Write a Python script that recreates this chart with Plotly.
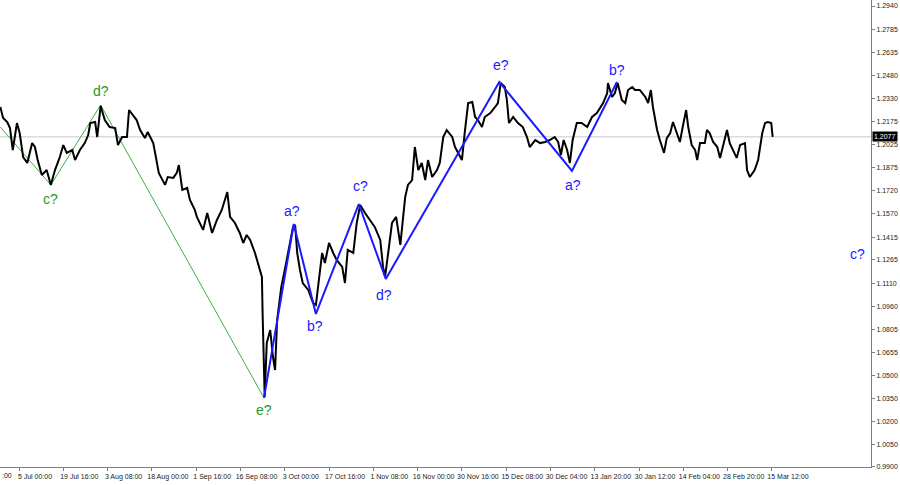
import plotly.graph_objects as go

# ---------------- data (bar index on H4 chart, price) ----------------
price_bar = [-27, -23, -17, -13, -9, -3, 1, 6, 12, 19, 23, 27, 33, 40, 46, 52, 59, 64, 69, 77,
             81, 88, 95, 100, 103, 110, 113, 118, 124, 131, 139, 143, 149, 156, 159, 165, 170, 175, 182, 186,
             194, 198, 202, 211, 215, 223, 228, 231, 236, 243, 247, 254, 257, 266, 272, 279, 286, 293, 301, 305,
             312, 319, 324, 329, 334, 341, 345, 351, 352, 354, 355, 358, 363, 367, 370, 373, 379, 384, 389, 396,
             399, 402, 406, 410, 418, 425, 429, 432, 438, 442, 448, 454, 459, 467, 471, 475, 483, 488, 493, 500,
             507, 514, 522, 526, 529, 533, 539, 545, 551, 558, 562, 568, 572, 577, 582, 587, 591, 597, 604, 608,
             613, 618, 626, 630, 634, 640, 644, 649, 655, 659, 663, 669, 673, 681, 688, 692, 696, 702, 705, 708,
             714, 721, 728, 734, 738, 746, 753, 760, 767, 774, 779, 783, 787, 792, 796, 800, 806, 813, 821, 828,
             835, 844, 850, 851, 857, 861, 865, 871, 876, 880, 886, 890, 897, 905, 909, 913, 916, 922, 926, 932,
             936, 941, 945, 951, 955, 959, 964, 967, 972, 977, 980, 984, 991, 994, 998, 1003, 1009, 1013, 1017, 1023,
             1027, 1032, 1037, 1042, 1049, 1052, 1056, 1063, 1068, 1074, 1078, 1082, 1087, 1089]
price_val = [1.2274, 1.2201, 1.2175, 1.2135, 1.1990, 1.2168, 1.2102, 1.1944, 1.1905, 1.2036, 1.2010, 1.1924, 1.1825, 1.1858, 1.1760, 1.1858, 1.1944, 1.2023, 1.1971, 1.1990,
             1.1924, 1.1990, 1.2036, 1.2089, 1.2168, 1.2175, 1.2076, 1.2281, 1.2188, 1.2142, 1.2135, 1.2023, 1.2076, 1.2076, 1.2254, 1.2221, 1.2188, 1.2122, 1.2069, 1.2109,
             1.2036, 1.1938, 1.1839, 1.1760, 1.1812, 1.1806, 1.1839, 1.1891, 1.1727, 1.1740, 1.1661, 1.1595, 1.1549, 1.1463, 1.1575, 1.1443, 1.1529, 1.1595, 1.1713, 1.1549,
             1.1509, 1.1443, 1.1377, 1.1430, 1.1397, 1.1311, 1.1252, 1.1153, 1.0915, 1.0539, 1.0361, 1.0718, 1.0803, 1.0625, 1.0539, 1.0869, 1.1087, 1.1199, 1.1311, 1.1483,
             1.1496, 1.1311, 1.1199, 1.1113, 1.1067, 1.0981, 1.0968, 1.1087, 1.1311, 1.1245, 1.1377, 1.1311, 1.1265, 1.1219, 1.1113, 1.1331, 1.1311, 1.1509, 1.1628, 1.1575,
             1.1529, 1.1483, 1.1397, 1.1219, 1.1153, 1.1311, 1.1509, 1.1549, 1.1364, 1.1680, 1.1760, 1.1792, 1.2010, 1.1858, 1.1905, 1.1792, 1.1924, 1.1812, 1.1858, 1.1905,
             1.2076, 1.2122, 1.2076, 1.2010, 1.1971, 1.1924, 1.2102, 1.2300, 1.2307, 1.2208, 1.2188, 1.2142, 1.2208, 1.2234, 1.2274, 1.2300, 1.2432, 1.2406, 1.2320, 1.2168,
             1.2208, 1.2168, 1.2142, 1.2076, 1.2010, 1.2056, 1.2036, 1.2043, 1.2056, 1.2076, 1.2043, 1.1957, 1.2056, 1.1990, 1.1905, 1.2056, 1.2168, 1.2168, 1.2142, 1.2208,
             1.2234, 1.2300, 1.2366, 1.2432, 1.2340, 1.2366, 1.2432, 1.2320, 1.2300, 1.2386, 1.2406, 1.2386, 1.2386, 1.2340, 1.2300, 1.2386, 1.2274, 1.2122, 1.2056, 1.1971,
             1.2069, 1.2102, 1.2175, 1.2102, 1.2043, 1.2142, 1.2254, 1.2142, 1.2023, 1.1990, 1.1924, 1.2036, 1.2036, 1.2122, 1.2102, 1.2043, 1.2010, 1.1938, 1.2010, 1.2122,
             1.2036, 1.1990, 1.1938, 1.2023, 1.2036, 1.1858, 1.1812, 1.1858, 1.1924, 1.2102, 1.2168, 1.2175, 1.2168, 1.2077]

current_price = 1.2077

green_wave_bar = [-27, 46, 118, 354]
green_wave_val = [1.2142, 1.1760, 1.2287, 1.0355]
blue_wave_bar = [354, 397, 429, 491, 530, 694, 799, 864]
blue_wave_val = [1.0355, 1.1502, 1.0909, 1.1634, 1.1140, 1.2439, 1.1852, 1.2439]

green_labels = ["c?", "d?", "e?"]
green_label_bar = [46, 118, 354]
green_label_val = [1.1667, 1.2380, 1.0276]
blue_labels = ["a?", "b?", "c?", "d?", "e?", "a?", "b?", "c?"]
blue_label_bar = [394, 428, 493, 527, 696, 800, 864, 1211]
blue_label_val = [1.1588, 1.0830, 1.1753, 1.1034, 1.2551, 1.1760, 1.2518, 1.1304]

y_ticks = [1.2940, 1.2785, 1.2635, 1.2480, 1.2330, 1.2175, 1.2025, 1.1875, 1.1720, 1.1570, 1.1415,
           1.1265, 1.1110, 1.0960, 1.0805, 1.0655, 1.0500, 1.0350, 1.0200, 1.0050, 0.9900]
x_tick_labels = ["5 Jul 00:00", "19 Jul 16:00", "3 Aug 08:00", "18 Aug 00:00", "1 Sep 16:00",
                 "16 Sep 08:00", "3 Oct 00:00", "17 Oct 16:00", "1 Nov 08:00", "16 Nov 00:00",
                 "30 Nov 16:00", "15 Dec 08:00", "30 Dec 04:00", "13 Jan 20:00", "30 Jan 12:00",
                 "14 Feb 04:00", "28 Feb 20:00", "15 Mar 12:00"]
bars_per_label = 64
x_tick_bars = [i * bars_per_label for i in range(len(x_tick_labels))]

# ---------------- figure ----------------
GREEN_LINE = "#3cb043"
GREEN_TEXT = "#1f9a1f"
BLUE = "#1a1aff"
AXIS = "#7f7f7f"
FONT = "Liberation Sans, Arial"

fig = go.Figure()
fig.add_trace(go.Scatter(x=green_wave_bar, y=green_wave_val, mode="lines",
                         line=dict(color=GREEN_LINE, width=1), hoverinfo="skip"))
fig.add_trace(go.Scatter(x=price_bar, y=price_val, mode="lines",
                         line=dict(color="black", width=2), hoverinfo="skip"))
fig.add_trace(go.Scatter(x=blue_wave_bar, y=blue_wave_val, mode="lines",
                         line=dict(color=BLUE, width=2), hoverinfo="skip"))

# current price line
fig.add_hline(y=current_price, line=dict(color="#c8c8c8", width=1), layer="below")

annotations = []
for t, xb, yv in zip(green_labels, green_label_bar, green_label_val):
    annotations.append(dict(x=xb, y=yv, xref="x", yref="y", text=t, showarrow=False,
                            font=dict(family=FONT, size=14, color=GREEN_TEXT)))
for t, xb, yv in zip(blue_labels, blue_label_bar, blue_label_val):
    annotations.append(dict(x=xb, y=yv, xref="x", yref="y", text=t, showarrow=False,
                            font=dict(family=FONT, size=14, color=BLUE)))
annotations.append(dict(x=1, y=current_price, xref="paper", yref="y", xanchor="left", yanchor="middle",
                        xshift=1, text=f"{current_price:.4f}", showarrow=False, bgcolor="black",
                        borderpad=1, font=dict(family=FONT, size=7, color="white")))
annotations.append(dict(x=0, y=0, xref="paper", yref="paper", xanchor="left", yanchor="top",
                        yshift=-3, text=":00", showarrow=False,
                        font=dict(family=FONT, size=7, color="#222222")))

fig.update_layout(
    width=900, height=485,
    margin=dict(l=0, r=29, t=0, b=18),
    paper_bgcolor="white", plot_bgcolor="white",
    showlegend=False,
    annotations=annotations,
    xaxis=dict(range=[-27.45, 1231.1], showgrid=False, zeroline=False,
               showline=True, linecolor=AXIS, linewidth=1,
               tickvals=x_tick_bars, ticktext=x_tick_labels,
               ticks="outside", ticklen=3, tickcolor=AXIS,
               ticklabelshift=16, ticklabelstandoff=0,
               tickfont=dict(family=FONT, size=7, color="#222222")),
    yaxis=dict(range=[0.98995, 1.29796], side="right", showgrid=False, zeroline=False,
               showline=True, linecolor=AXIS, linewidth=1,
               tickvals=y_ticks, ticktext=[f"{v:.4f}" for v in y_ticks],
               ticks="outside", ticklen=3, tickcolor=AXIS,
               tickfont=dict(family=FONT, size=7, color="#222222")),
)

fig.write_html("out.html", config={"displayModeBar": False},
               post_script="document.body.style.margin='0';document.body.style.overflow='hidden';")
